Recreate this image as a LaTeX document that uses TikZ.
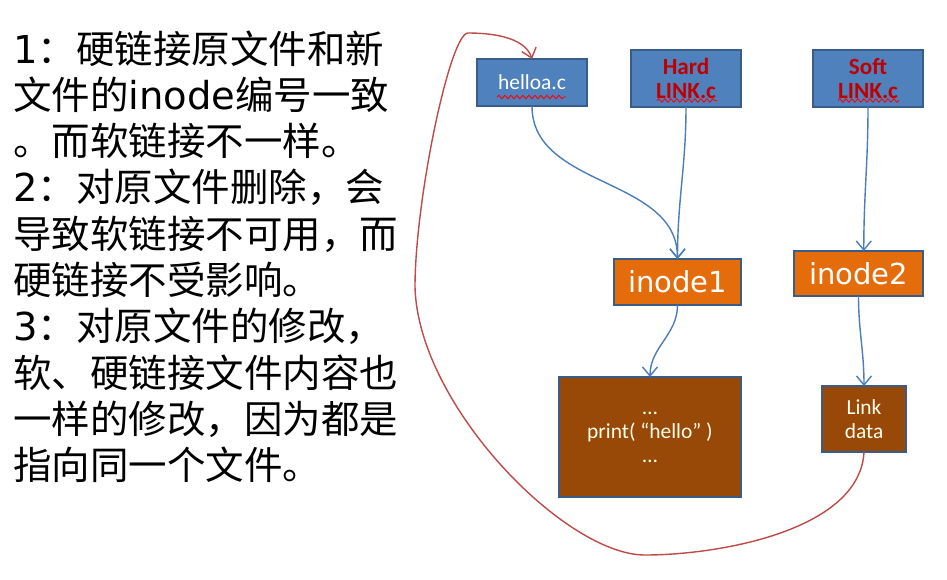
\documentclass[tikz,border=0pt]{standalone}
\usepackage{fontspec}
\newfontfamily\cjkfont{Noto Sans CJK SC}
\newfontfamily\verdfont{DejaVu Sans}
\newfontfamily\boxfont{Carlito}
\usepackage{tikz}
\usetikzlibrary{arrows.meta, decorations.pathmorphing}
\definecolor{File_blue}{HTML}{4F81BD}
\definecolor{Edge_blue}{HTML}{385D8A}
\definecolor{Inode_orange}{HTML}{E46C0A}
\definecolor{Data_brown}{HTML}{984807}
\definecolor{Arrow_blue}{HTML}{4A7EBB}
\definecolor{Link_red}{HTML}{BE4B48}
\definecolor{Name_red}{HTML}{C00000}
\tikzset{
  box/.style={draw=Edge_blue, line width=1.2pt, inner sep=0pt, outer sep=0pt, align=center},
  filebox/.style={box, fill=File_blue, minimum width=2.2cm, font=\boxfont\fontsize{12.2pt}{13.6pt}\selectfont},
  inodebox/.style={box, fill=Inode_orange, text=white, font=\verdfont\fontsize{16.5pt}{20pt}\selectfont},
  databox/.style={box, fill=Data_brown, text=white!92!yellow, font=\boxfont\fontsize{12.2pt}{13.6pt}\selectfont},
  ptr/.style={draw=Arrow_blue, line width=0.8pt, -{Straight Barb[length=1.8mm,width=3mm]}},
  backlink/.style={draw=Link_red, line width=0.8pt, -{Straight Barb[length=1.8mm,width=3mm]}},
  squiggle/.style={draw=red, line width=0.5pt, decorate, decoration={snake, amplitude=0.35mm, segment length=1.2mm}}
}

\begin{document}
\begin{tikzpicture}[x=0.02cm, y=-0.02cm]
    \fill[white] (0,0) rectangle (947,579);
    \useasboundingbox (0,0) rectangle (947,579);

    % notes on the left
    \foreach \t [count=\i] in {
        {{\verdfont 1}：硬链接原文件和新},
        {文件的{\verdfont inode}编号一致},
        {。而软链接不一样。},
        {{\verdfont 2}：对原文件删除，会},
        {导致软链接不可用，而},
        {硬链接不受影响。},
        {{\verdfont 3}：对原文件的修改，},
        {软、硬链接文件内容也},
        {一样的修改，因为都是},
        {指向同一个文件。}}
        \node[anchor=base west, inner sep=0pt, font=\cjkfont\fontsize{21.9pt}{26pt}\selectfont]
            (line\i) at (13, {63+46.3*(\i-1)}) {\t};

    % files
    \node[filebox, minimum height=0.94cm, text=white] (helloa) at (532, 82.5) {helloa.c};
    \node[filebox, minimum height=1.14cm, text=Name_red, font=\boxfont\bfseries\fontsize{13.2pt}{13.6pt}\selectfont] (hard) at (686, 78.5) {Hard\\LINK.c};
    \node[filebox, minimum height=1.14cm, text=Name_red, font=\boxfont\bfseries\fontsize{13.2pt}{13.6pt}\selectfont] (soft) at (868, 78.5) {Soft\\LINK.c};
    \draw[squiggle] ([shift={(-35,14.5)}]helloa.center) -- ++(69,0);
    \draw[squiggle] ([shift={(-29,22)}]hard.center) -- ++(60,0);
    \draw[squiggle] ([shift={(-30,22)}]soft.center) -- ++(61,0);

    % inodes
    \node[inodebox, minimum width=2.54cm, minimum height=0.92cm] (inode1) at (677.5, 282) {inode1};
    \node[inodebox, minimum width=2.58cm, minimum height=0.9cm] (inode2) at (858.5, 273.5) {inode2};

    % data blocks
    \node[databox, minimum width=3.64cm, minimum height=2.4cm] (prog) at (650, 437) {…\\print(\ “hello”\ )\\…};
    \node[databox, minimum width=1.68cm, minimum height=1.32cm] (ldata) at (864, 419) {Link\\data};

    \draw[ptr] (helloa.south) to[out=-90, in=90] (inode1.north);
    \draw[ptr] (hard.south) to[out=-90, in=90] (inode1.north);
    \draw[ptr] (soft.south) to[out=-90, in=90] ([xshift=3]inode2.north);
    \draw[ptr] (inode1.south) to[out=-90, in=90] (prog.north);
    \draw[ptr] (inode2.south) to[out=-90, in=90] (ldata.north);
    \draw[backlink] (ldata.south) .. controls (860,530) and (720,555) .. (645,555)
        .. controls (565,555) and (418,405) .. (415,287)
        .. controls (415,200) and (450,33) .. (468,33)
        .. controls (500,33) and (526,40) .. (helloa.north);
\end{tikzpicture}
\end{document}
